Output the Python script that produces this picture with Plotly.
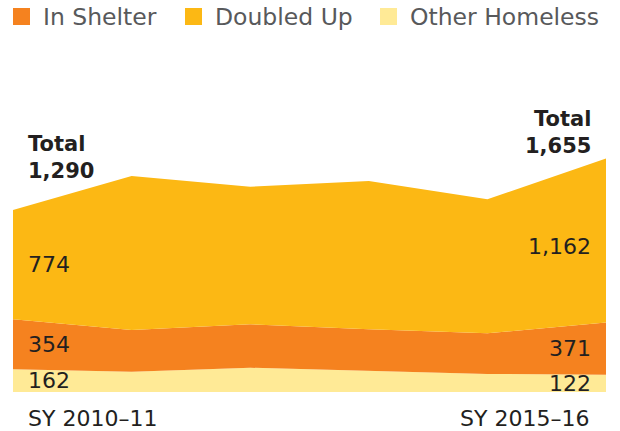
import plotly.graph_objects as go

years = ["SY 2010–11", "SY 2011–12", "SY 2012–13", "SY 2013–14", "SY 2014–15", "SY 2015–16"]
other_homeless = [162, 144, 172, 151, 128, 122]
in_shelter = [354, 295, 308, 293, 288, 371]
doubled_up = [774, 1092, 975, 1051, 950, 1162]
totals = [o + s + d for o, s, d in zip(other_homeless, in_shelter, doubled_up)]

C_SHELTER = "#F5821F"
C_DOUBLED = "#FCB814"
C_OTHER = "#FFEA96"
TXT = "#231F20"
LEG_TXT = "#58595B"
FONT = "DejaVu Sans"

xs = list(range(len(years)))
fig = go.Figure()
for name, vals, col in [("Other Homeless", other_homeless, C_OTHER),
                        ("In Shelter", in_shelter, C_SHELTER),
                        ("Doubled Up", doubled_up, C_DOUBLED)]:
    fig.add_trace(go.Scatter(x=xs, y=vals, name=name, stackgroup="one",
                             mode="lines", line=dict(width=0, color=col),
                             fillcolor=col, hoverinfo="skip", showlegend=False))

ann = []
def lab(x, y, text, xanchor, xshift, yshift=0, size=22, bold=False):
    ann.append(dict(x=x, y=y, xref="x", yref="y", text=f"<b>{text}</b>" if bold else text,
                    showarrow=False, xanchor=xanchor, yanchor="middle",
                    xshift=xshift, yshift=yshift,
                    font=dict(family=FONT, size=size, color=TXT)))

# left values
i = 0
lab(i, other_homeless[i] / 2, str(other_homeless[i]), "left", 13)
lab(i, other_homeless[i] + in_shelter[i] / 2, str(in_shelter[i]), "left", 13)
lab(i, other_homeless[i] + in_shelter[i] + doubled_up[i] / 2, f"{doubled_up[i]:,}", "left", 13)
# right values
i = len(years) - 1
lab(i, other_homeless[i] / 2, str(other_homeless[i]), "right", -13)
lab(i, other_homeless[i] + in_shelter[i] / 2, str(in_shelter[i]), "right", -13)
lab(i, other_homeless[i] + in_shelter[i] + doubled_up[i] / 2, f"{doubled_up[i]:,}", "right", -13, yshift=-6)
# totals
ann.append(dict(x=0, y=totals[0], xref="x", yref="y",
                text=f"<b>Total</b><br><b>{totals[0]:,}</b>", showarrow=False,
                xanchor="left", yanchor="middle", xshift=13, yshift=53, align="left",
                font=dict(family=FONT, size=21, color=TXT)))
ann.append(dict(x=len(years) - 1, y=totals[-1], xref="x", yref="y",
                text=f"<b>Total</b><br><b>{totals[-1]:,}</b>", showarrow=False,
                xanchor="right", yanchor="middle", xshift=-13, yshift=26, align="right",
                font=dict(family=FONT, size=21, color=TXT)))
# x labels
lab(0, 0, years[0], "left", 13, yshift=-26)
lab(len(years) - 1, 0, years[-1], "right", -15, yshift=-26)

# manual legend (pixel positions converted to paper coords)
W, H = 620, 431
L, R, T, B = 13, 14, 40, 39
pw, ph = W - L - R, H - T - B
def px(x): return (x - L) / pw
def py(y): return (H - B - y) / ph
shapes = []
for x0, col, name in [(13, C_SHELTER, "In Shelter"), (185, C_DOUBLED, "Doubled Up"), (380, C_OTHER, "Other Homeless")]:
    shapes.append(dict(type="rect", xref="paper", yref="paper", x0=px(x0), x1=px(x0 + 17),
                       y0=py(25), y1=py(8), fillcolor=col, line=dict(width=0)))
    ann.append(dict(x=px(x0 + 28), y=py(16.5), xref="paper", yref="paper", text=name,
                    showarrow=False, xanchor="left", yanchor="middle",
                    font=dict(family=FONT, size=23.5, color=LEG_TXT)))

fig.update_layout(
    width=W, height=H, margin=dict(l=L, r=R, t=T, b=B),
    paper_bgcolor="white", plot_bgcolor="white",
    xaxis=dict(range=[0, len(years) - 1], visible=False, fixedrange=True),
    yaxis=dict(range=[0, 2495], visible=False, fixedrange=True),
    annotations=ann, shapes=shapes, showlegend=False,
)
fig.write_html("out.html")
